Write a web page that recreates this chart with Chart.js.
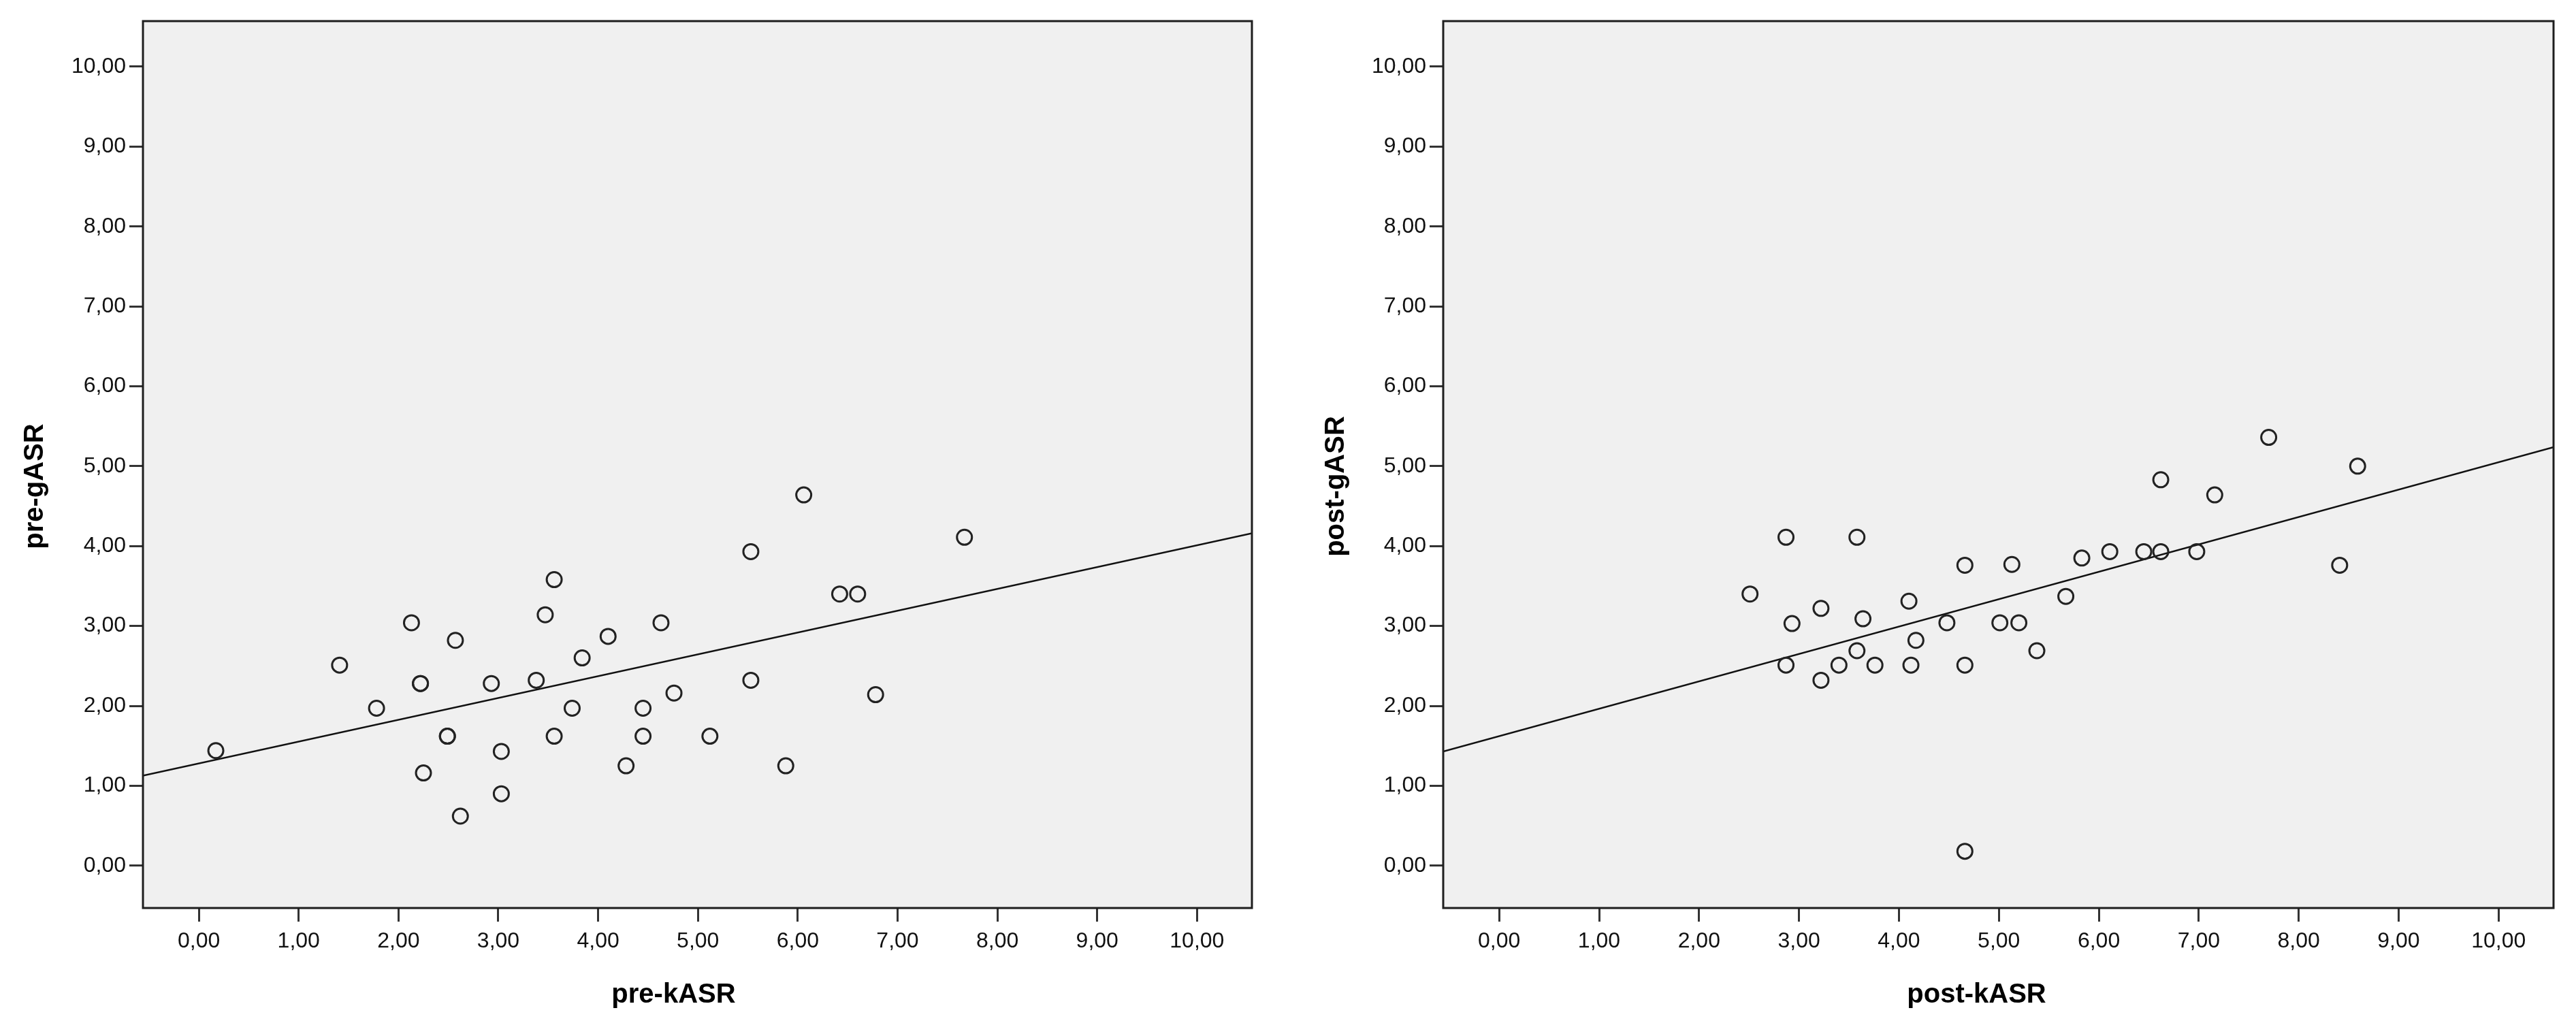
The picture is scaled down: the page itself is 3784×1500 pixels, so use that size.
<!DOCTYPE html>
<html>
<head>
<meta charset="utf-8">
<script src="https://cdn.jsdelivr.net/npm/chart.js@4.4.0/dist/chart.umd.min.js"></script>
<style>
  body { margin: 0; background: #fff; }
  #contenedor { position: relative; width: 3784px; height: 1500px; }
  .caja { position: absolute; top: 0; width: 1892px; height: 1500px; }
</style>
</head>
<body>
<div id="contenedor">
  <div class="caja" style="left:0"><canvas id="graficaPre" width="1892" height="1500"></canvas></div>
  <div class="caja" style="left:1892px"><canvas id="graficaPost" width="1892" height="1500"></canvas></div>
</div>
<script>
// valores de los ejes
const ticksEjes = [0, 1, 2, 3, 4, 5, 6, 7, 8, 9, 10];
const rangoX = [-0.56, 10.55];
const rangoY = [-0.53, 10.57];

// pre: kASR (x) vs gASR (y)
const preK = [0.17, 1.41, 1.78, 2.13, 2.22, 2.22, 2.25, 2.49, 2.49, 2.57, 2.62, 2.93, 3.03, 3.03, 3.38, 3.47, 3.56, 3.56,
              3.74, 3.84, 4.10, 4.28, 4.45, 4.45, 4.63, 4.76, 5.12, 5.53, 5.53, 5.88, 6.06, 6.42, 6.60, 6.78, 7.67];
const preG = [1.44, 2.51, 1.97, 3.04, 2.28, 2.28, 1.16, 1.62, 1.62, 2.82, 0.62, 2.28, 1.43, 0.90, 2.32, 3.14, 3.58, 1.62,
              1.97, 2.60, 2.87, 1.25, 1.97, 1.62, 3.04, 2.16, 1.62, 3.93, 2.32, 1.25, 4.64, 3.40, 3.40, 2.14, 4.11];

// post: kASR (x) vs gASR (y)
const postK = [2.51, 2.87, 2.87, 2.93, 3.22, 3.22, 3.40, 3.58, 3.58, 3.64, 3.76, 4.10, 4.12, 4.17, 4.48, 4.66, 4.66, 4.66,
               5.01, 5.13, 5.20, 5.38, 5.67, 5.83, 6.11, 6.45, 6.62, 6.62, 6.98, 7.16, 7.70, 8.41, 8.59];
const postG = [3.40, 4.11, 2.51, 3.03, 3.22, 2.32, 2.51, 4.11, 2.69, 3.09, 2.51, 3.31, 2.51, 2.82, 3.04, 3.76, 2.51, 0.18,
               3.04, 3.77, 3.04, 2.69, 3.37, 3.85, 3.93, 3.93, 4.83, 3.93, 3.93, 4.64, 5.36, 3.76, 5.00];

// recta de ajuste: [intercepto, pendiente]
const rectaPre = [1.28, 0.273];
const rectaPost = [1.62, 0.343];

const fuenteTitulo = 'bold 40px "Liberation Sans", Arial, sans-serif';

// fondo gris, marco y titulos de los ejes
const fondoGrafica = {
    id: 'fondoGrafica',
    beforeDraw(chart) {
        const a = chart.chartArea;
        const ctx = chart.ctx;
        ctx.save();
        ctx.fillStyle = '#f0f0f0';
        ctx.fillRect(a.left, a.top, a.right - a.left, a.bottom - a.top);
        ctx.restore();
    },
    afterDraw(chart, args, opts) {
        const a = chart.chartArea;
        const ctx = chart.ctx;
        ctx.save();
        ctx.strokeStyle = '#1e1e1e';
        ctx.lineWidth = 3;
        ctx.strokeRect(a.left, a.top, a.right - a.left, a.bottom - a.top);

        ctx.fillStyle = '#000';
        ctx.font = fuenteTitulo;
        ctx.textAlign = 'center';
        ctx.textBaseline = 'alphabetic';
        ctx.fillText(opts.tituloX, (a.left + a.right) / 2 + opts.desplX, opts.baseX);

        ctx.translate(opts.baseY, (a.top + a.bottom) / 2 + opts.desplY);
        ctx.rotate(-Math.PI / 2);
        ctx.fillText(opts.tituloY, 0, 0);
        ctx.restore();
    }
};

function formatoComa(v) {
    return Number(v).toFixed(2).replace('.', ',');
}

function dibujarGrafica(id, xs, ys, recta, titulos, anchoEjeY, padDerecha) {
    const puntos = xs.map((x, i) => ({ x: x, y: ys[i] }));
    const linea = rangoX.map(x => ({ x: x, y: recta[0] + recta[1] * x }));

    const ejeComun = {
        type: 'linear',
        afterBuildTicks: s => { s.ticks = ticksEjes.map(v => ({ value: v })); },
        border: { display: false },
        grid: { drawOnChartArea: false, drawTicks: true, tickLength: 20, tickWidth: 3, tickColor: '#333' },
        title: { display: false }
    };

    const ctx = document.getElementById(id).getContext('2d');
    new Chart(ctx, {
        type: 'scatter',
        data: {
            datasets: [
                {
                    data: puntos,
                    pointStyle: 'circle',
                    pointRadius: 11,
                    pointBorderWidth: 3,
                    pointBorderColor: '#222',
                    pointBackgroundColor: 'rgba(0,0,0,0)',
                    showLine: false
                },
                {
                    type: 'line',
                    data: linea,
                    borderColor: '#111',
                    borderWidth: 2.5,
                    pointRadius: 0,
                    fill: false
                }
            ]
        },
        options: {
            responsive: false,
            animation: false,
            events: [],
            layout: { padding: { top: 31, right: padDerecha, left: 0, bottom: 0 } },
            plugins: {
                legend: { display: false },
                tooltip: { enabled: false },
                fondoGrafica: titulos
            },
            scales: {
                x: Object.assign({}, ejeComun, {
                    min: rangoX[0],
                    max: rangoX[1],
                    afterFit: s => { s.height = 166; },
                    ticks: {
                        padding: 10,
                        color: '#111',
                        font: { family: 'Liberation Sans', size: 32 },
                        callback: v => formatoComa(v)
                    }
                }),
                y: Object.assign({}, ejeComun, {
                    min: rangoY[0],
                    max: rangoY[1],
                    afterFit: s => { s.width = anchoEjeY; },
                    ticks: {
                        padding: 5,
                        color: '#111',
                        font: { family: 'Liberation Sans', size: 32 },
                        callback: v => formatoComa(v)
                    }
                })
            }
        },
        plugins: [fondoGrafica]
    });
}

dibujarGrafica('graficaPre', preK, preG, rectaPre,
    { tituloX: 'pre-kASR', tituloY: 'pre-gASR', baseX: 1473, desplX: -35, baseY: 63, desplY: 32 }, 210, 53);
dibujarGrafica('graficaPost', postK, postG, rectaPost,
    { tituloX: 'post-kASR', tituloY: 'post-gASR', baseX: 1473, desplX: -32, baseY: 82, desplY: 32 }, 228, 33);
</script>
</body>
</html>
